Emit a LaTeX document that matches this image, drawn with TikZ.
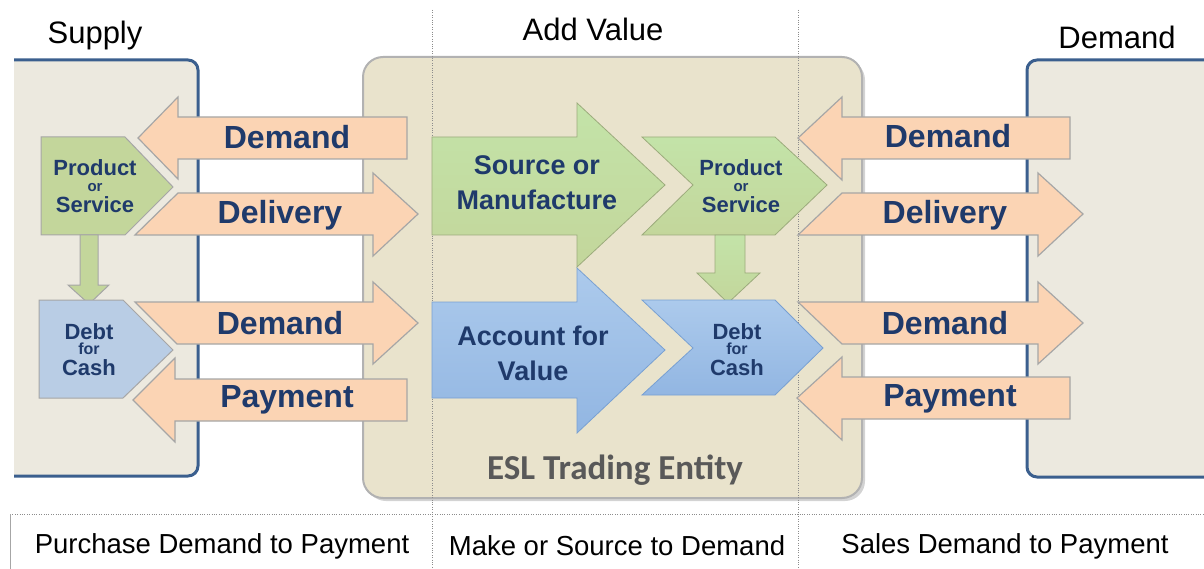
\documentclass[tikz,border=0pt]{standalone}
\usepackage{fontspec}
\setmainfont{Liberation Sans}
\newfontfamily\eslfont{Carlito}
\usetikzlibrary{shadows}

\definecolor{sidefill}{HTML}{ECE9DF}
\definecolor{sideblue}{HTML}{3B5F8E}
\definecolor{eslfill}{HTML}{E9E3CC}
\definecolor{peach}{HTML}{FBD4B4}
\definecolor{navy}{HTML}{1F3A6B}
\definecolor{leafgreen}{HTML}{C3D69B}
\definecolor{paleblue}{HTML}{B9CDE5}

\begin{document}
\begin{tikzpicture}[x=1pt,y=-1pt,
	sideline/.style={draw=sideblue, line width=3pt, rounded corners=10pt},
	flow/.style={fill=peach, draw=black!35, line width=1.2pt},
	flowtxt/.style={text=navy, font=\bfseries\fontsize{32}{32}\selectfont},
	greenbox/.style={fill=leafgreen, draw=black!35, line width=1pt},
	bluebox/.style={fill=paleblue, draw=black!35, line width=1pt},
	greenarr/.style={top color=green!10!leafgreen!75, bottom color=leafgreen, draw=leafgreen!80!black, line width=.8pt},
	bluearr/.style={top color={rgb,255:red,172;green,202;blue,236}, bottom color={rgb,255:red,146;green,182;blue,226}, draw={rgb,255:red,120;green,160;blue,210}, line width=.8pt},
	boxtxt/.style={text=navy, align=center, font=\bfseries\fontsize{22}{20}\selectfont},
	bigtxt/.style={text=navy, align=center, font=\bfseries\fontsize{27}{35}\selectfont},
	toplbl/.style={font=\fontsize{31}{31}\selectfont},
	botlbl/.style={font=\fontsize{27.5}{28}\selectfont}]
	\useasboundingbox (0,0) rectangle (1204,569);

	% supply and demand sides
	\begin{scope}
		\clip (14,0) rectangle (1204,569);
		\fill[sidefill, rounded corners=10pt] (0,60) rectangle (198,476);
		\fill[sidefill, rounded corners=10pt] (1027,60) rectangle (1230,477);
		\draw[sideline] (0,60) -- (198,60) -- (198,476) -- (0,476);
		\draw[sideline] (1230,60) -- (1027,60) -- (1027,477) -- (1230,477);
	\end{scope}

	% trading entity
	\fill[eslfill, rounded corners=20pt, draw=black!30, line width=2pt,
		drop shadow={opacity=.35, shadow xshift=3pt, shadow yshift=-3pt}] (363,57) rectangle (862,498);
	\node[text=black!65, font=\eslfont\bfseries\fontsize{35}{35}\selectfont] (esl) at (615,470) {ESL Trading Entity};

	% column guides and table
	\draw[black!45, dotted] (432,10) -- (432,569);
	\draw[black!45, dotted] (798,10) -- (798,569);
	\draw[black!45, dotted] (10,514) -- (1204,514);
	\draw[black!35] (10,514) -- (10,569);

	\node[toplbl] (supply) at (95,35) {Supply};
	\node[toplbl] (addval) at (593,29) {Add Value};
	\node[toplbl] (demand) at (1117,37) {Demand};
	\node[botlbl] (purch) at (222,546) {Purchase Demand to Payment};
	\node[botlbl] (make) at (617,546) {Make or Source to Demand};
	\node[botlbl] (sales) at (1005,546) {Sales Demand to Payment};

	% supplier boxes
	\draw[greenbox] (41,137) -- (125,137) -- (173,187) -- (125,235) -- (41,235) -- cycle;
	\draw[greenbox] (80,235) -- (98,235) -- (98,285) -- (109,285) -- (89,304) -- (68,285) -- (80,285) -- cycle;
	\draw[bluebox] (39,300) -- (123,300) -- (173,350) -- (123,398) -- (39,398) -- cycle;
	\node[boxtxt] (supprod) at (95,186) {Product\\[-4pt]{\fontsize{15}{15}\selectfont or}\\[1pt]Service};
	\node[boxtxt] (supdebt) at (89,350) {Debt\\[-5pt]{\fontsize{16}{16}\selectfont for}\\[1pt]Cash};

	% value chain
	\draw[greenarr] (432,137) -- (577,137) -- (577,103) -- (665,185) -- (577,267) -- (577,235) -- (432,235) -- cycle;
	\draw[bluearr] (432,302) -- (577,302) -- (577,268) -- (665,350) -- (577,433) -- (577,398) -- (432,398) -- cycle;
	\draw[greenarr] (642,137) -- (775,137) -- (827,185) -- (775,235) -- (642,235) -- (693,185) -- cycle;
	\draw[greenarr] (715,235) -- (745,235) -- (745,273) -- (760,273) -- (728,303) -- (697,273) -- (715,273) -- cycle;
	\draw[bluearr] (642,300) -- (775,300) -- (823,348) -- (775,395) -- (642,395) -- (693,348) -- cycle;
	\node[bigtxt] (source) at (537,183) {Source or\\Manufacture};
	\node[bigtxt] (account) at (533,353) {Account for\\Value};
	\node[boxtxt] (midprod) at (741,186) {Product\\[-4pt]{\fontsize{15}{15}\selectfont or}\\[1pt]Service};
	\node[boxtxt] (middebt) at (737,350) {Debt\\[-5pt]{\fontsize{16}{16}\selectfont for}\\[1pt]Cash};

	% purchase side flows
	\draw[flow] (138,138) -- (178,97) -- (178,117) -- (407,117) -- (407,159) -- (178,159) -- (178,179) -- cycle;
	\draw[flow] (178,193) -- (373,193) -- (373,173) -- (418,214) -- (373,256) -- (373,235) -- (135,235) -- cycle;
	\draw[flow] (135,302) -- (373,302) -- (373,282) -- (418,323) -- (373,364) -- (373,344) -- (177,344) -- cycle;
	\draw[flow] (133,400) -- (175,358) -- (175,379) -- (407,379) -- (407,421) -- (175,421) -- (175,442) -- cycle;
	\node[flowtxt] (pdemand) at (287,137) {Demand};
	\node[flowtxt] (pdeliv) at (280,215) {Delivery};
	\node[flowtxt] (pdemand2) at (280,323) {Demand};
	\node[flowtxt] (ppay) at (287,400) {Payment};

	% sales side flows
	\draw[flow] (798,138) -- (842,97) -- (842,117) -- (1070,117) -- (1070,159) -- (842,159) -- (842,180) -- cycle;
	\draw[flow] (842,193) -- (1038,193) -- (1038,173) -- (1083,214) -- (1038,256) -- (1038,235) -- (798,235) -- cycle;
	\draw[flow] (798,302) -- (1038,302) -- (1038,282) -- (1083,323) -- (1038,364) -- (1038,344) -- (842,344) -- cycle;
	\draw[flow] (797,398) -- (842,357) -- (842,377) -- (1070,377) -- (1070,419) -- (842,419) -- (842,440) -- cycle;
	\node[flowtxt] (sdemand) at (948,136) {Demand};
	\node[flowtxt] (sdeliv) at (945,215) {Delivery};
	\node[flowtxt] (sdemand2) at (945,323) {Demand};
	\node[flowtxt] (spay) at (950,399) {Payment};
\end{tikzpicture}
\end{document}
